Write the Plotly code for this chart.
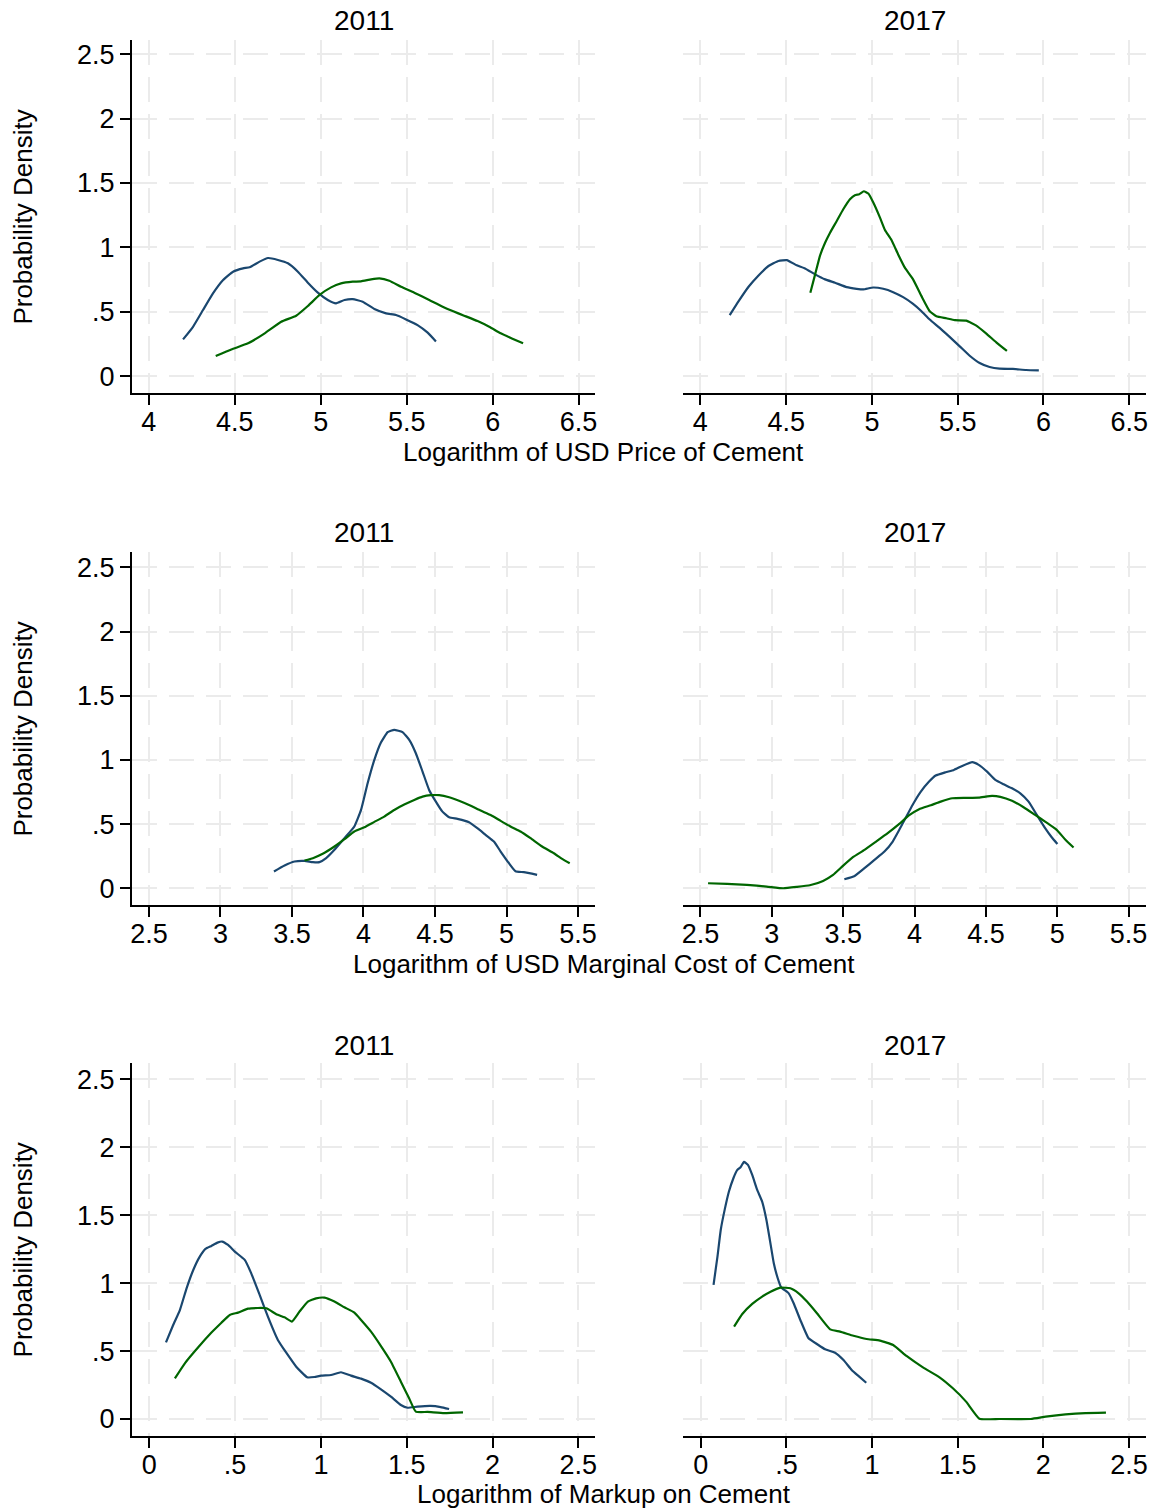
import plotly.graph_objects as go

# Figure geometry (pixels)
W, H = 1156, 1508
FONT = "Liberation Sans, Arial, Helvetica, sans-serif"
COL_G1 = "#1a476f"
COL_G2 = "#006600"
GRID = "#ebebeb"

# ---------------- Density estimates: x = log value, y = density ----------------
# Price of cement, 2011
price_2011_g1_x = [4.199, 4.257, 4.315, 4.373, 4.432, 4.490, 4.548, 4.586, 4.644, 4.693, 4.751, 4.809, 4.867, 4.925,
                   4.983, 5.041, 5.089, 5.138, 5.186, 5.244, 5.312, 5.380, 5.438, 5.496, 5.563, 5.622, 5.670]
price_2011_g1_y = [0.285, 0.383, 0.513, 0.642, 0.746, 0.811, 0.837, 0.845, 0.889, 0.917, 0.902, 0.876, 0.811, 0.725,
                   0.648, 0.591, 0.565, 0.591, 0.598, 0.578, 0.521, 0.487, 0.474, 0.440, 0.396, 0.337, 0.269]
price_2011_g2_x = [4.389, 4.480, 4.577, 4.674, 4.770, 4.857, 4.925, 4.993, 5.060, 5.118, 5.186, 5.234, 5.293, 5.341,
                   5.399, 5.467, 5.544, 5.631, 5.709, 5.767, 5.834, 5.912, 5.980, 6.047, 6.115, 6.177]
price_2011_g2_y = [0.155, 0.207, 0.254, 0.332, 0.422, 0.469, 0.544, 0.630, 0.689, 0.720, 0.733, 0.736, 0.751, 0.759,
                   0.741, 0.694, 0.648, 0.591, 0.539, 0.505, 0.469, 0.427, 0.383, 0.332, 0.290, 0.254]

# Price of cement, 2017
price_2017_g1_x = [4.171, 4.223, 4.281, 4.339, 4.397, 4.455, 4.504, 4.562, 4.610, 4.669, 4.727, 4.785, 4.853, 4.911,
                   4.950, 5.008, 5.066, 5.124, 5.182, 5.240, 5.289, 5.337, 5.395, 5.453, 5.512, 5.570, 5.628, 5.686,
                   5.744, 5.822, 5.899, 5.973]
price_2017_g1_y = [0.473, 0.582, 0.694, 0.782, 0.855, 0.894, 0.901, 0.860, 0.836, 0.790, 0.751, 0.725, 0.691, 0.678,
                   0.673, 0.688, 0.678, 0.652, 0.613, 0.561, 0.504, 0.439, 0.374, 0.304, 0.231, 0.158, 0.101, 0.070,
                   0.057, 0.055, 0.047, 0.044]
price_2017_g2_x = [4.641, 4.669, 4.698, 4.727, 4.756, 4.795, 4.833, 4.872, 4.901, 4.926, 4.953, 4.979, 5.008, 5.047,
                   5.076, 5.114, 5.153, 5.192, 5.240, 5.289, 5.337, 5.376, 5.434, 5.483, 5.550, 5.609, 5.667, 5.725,
                   5.787]
price_2017_g2_y = [0.647, 0.790, 0.938, 1.036, 1.114, 1.205, 1.296, 1.374, 1.405, 1.413, 1.436, 1.418, 1.348, 1.231,
                   1.135, 1.057, 0.945, 0.842, 0.751, 0.621, 0.504, 0.465, 0.449, 0.434, 0.431, 0.392, 0.330, 0.262,
                   0.195]

# Marginal cost of cement, 2011
mc_2011_g1_x = [3.374, 3.448, 3.518, 3.588, 3.646, 3.692, 3.739, 3.797, 3.867, 3.936, 3.983, 4.029, 4.076, 4.122,
                4.169, 4.215, 4.273, 4.320, 4.366, 4.413, 4.459, 4.506, 4.552, 4.599, 4.657, 4.738, 4.796, 4.854,
                4.912, 4.959, 5.017, 5.063, 5.121, 5.214]
mc_2011_g1_y = [0.130, 0.177, 0.208, 0.213, 0.203, 0.203, 0.234, 0.299, 0.390, 0.481, 0.610, 0.818, 1.000, 1.135,
                1.216, 1.234, 1.216, 1.156, 1.052, 0.909, 0.766, 0.675, 0.597, 0.553, 0.540, 0.514, 0.468, 0.416,
                0.364, 0.286, 0.195, 0.132, 0.125, 0.104]
mc_2011_g2_x = [3.588, 3.646, 3.715, 3.797, 3.867, 3.936, 4.006, 4.076, 4.145, 4.215, 4.285, 4.355, 4.413, 4.471,
                4.529, 4.599, 4.668, 4.750, 4.819, 4.889, 4.959, 5.028, 5.098, 5.168, 5.249, 5.331, 5.389, 5.442]
mc_2011_g2_y = [0.216, 0.234, 0.268, 0.325, 0.382, 0.442, 0.475, 0.517, 0.558, 0.610, 0.652, 0.688, 0.714, 0.725,
                0.725, 0.709, 0.681, 0.642, 0.605, 0.571, 0.525, 0.481, 0.442, 0.390, 0.325, 0.273, 0.229, 0.195]

# Marginal cost of cement, 2017
mc_2017_g1_x = [3.508, 3.580, 3.649, 3.719, 3.789, 3.847, 3.893, 3.940, 3.986, 4.044, 4.102, 4.148, 4.218, 4.276,
                4.334, 4.404, 4.450, 4.508, 4.566, 4.624, 4.683, 4.741, 4.799, 4.857, 4.915, 4.961, 5.001]
mc_2017_g1_y = [0.070, 0.096, 0.156, 0.221, 0.286, 0.364, 0.455, 0.553, 0.649, 0.753, 0.831, 0.878, 0.904, 0.922,
                0.953, 0.982, 0.961, 0.909, 0.844, 0.810, 0.779, 0.740, 0.675, 0.571, 0.468, 0.397, 0.345]
mc_2017_g2_x = [2.553, 2.686, 2.825, 2.964, 3.080, 3.173, 3.266, 3.359, 3.429, 3.498, 3.568, 3.649, 3.731, 3.812,
                3.893, 3.963, 4.032, 4.114, 4.183, 4.265, 4.357, 4.450, 4.543, 4.601, 4.683, 4.764, 4.845, 4.915,
                4.996, 5.054, 5.114]
mc_2017_g2_y = [0.039, 0.034, 0.026, 0.013, 0.000, 0.010, 0.023, 0.057, 0.104, 0.174, 0.242, 0.299, 0.364, 0.429,
                0.501, 0.569, 0.616, 0.647, 0.675, 0.701, 0.704, 0.706, 0.719, 0.712, 0.681, 0.631, 0.571, 0.519,
                0.455, 0.382, 0.317]

# Markup on cement, 2011
markup_2011_g1_x = [0.097, 0.139, 0.178, 0.217, 0.256, 0.294, 0.327, 0.362, 0.397, 0.424, 0.459, 0.498, 0.556, 0.594,
                    0.643, 0.691, 0.749, 0.798, 0.856, 0.920, 0.962, 1.001, 1.059, 1.117, 1.175, 1.234, 1.292, 1.350,
                    1.408, 1.466, 1.505, 1.563, 1.640, 1.698, 1.747]
markup_2011_g1_y = [0.564, 0.692, 0.802, 0.962, 1.097, 1.195, 1.252, 1.274, 1.298, 1.306, 1.281, 1.232, 1.171, 1.072,
                    0.913, 0.753, 0.582, 0.488, 0.385, 0.307, 0.309, 0.319, 0.324, 0.344, 0.319, 0.297, 0.267, 0.218,
                    0.164, 0.103, 0.083, 0.091, 0.096, 0.088, 0.074]
markup_2011_g2_x = [0.149, 0.207, 0.285, 0.362, 0.420, 0.469, 0.517, 0.575, 0.633, 0.682, 0.740, 0.788, 0.831, 0.875,
                    0.924, 0.972, 1.021, 1.079, 1.137, 1.195, 1.234, 1.292, 1.350, 1.408, 1.466, 1.514, 1.553, 1.621,
                    1.718, 1.828]
markup_2011_g2_y = [0.299, 0.410, 0.528, 0.636, 0.709, 0.766, 0.783, 0.812, 0.817, 0.815, 0.771, 0.748, 0.717, 0.790,
                    0.864, 0.888, 0.893, 0.864, 0.822, 0.783, 0.729, 0.643, 0.537, 0.422, 0.275, 0.152, 0.054, 0.052,
                    0.044, 0.049]

# Markup on cement, 2017
markup_2017_g1_x = [0.074, 0.097, 0.116, 0.139, 0.164, 0.190, 0.213, 0.232, 0.252, 0.275, 0.300, 0.329, 0.358, 0.383,
                    0.403, 0.426, 0.449, 0.469, 0.513, 0.542, 0.581, 0.629, 0.678, 0.726, 0.784, 0.833, 0.881, 0.920,
                    0.966]
markup_2017_g1_y = [0.987, 1.195, 1.391, 1.539, 1.674, 1.772, 1.833, 1.853, 1.892, 1.870, 1.796, 1.686, 1.600, 1.465,
                    1.318, 1.146, 1.036, 0.969, 0.925, 0.852, 0.729, 0.594, 0.552, 0.513, 0.488, 0.434, 0.361, 0.317,
                    0.267]
markup_2017_g2_x = [0.194, 0.242, 0.300, 0.358, 0.407, 0.465, 0.523, 0.571, 0.620, 0.678, 0.755, 0.813, 0.891, 0.968,
                    1.046, 1.123, 1.201, 1.297, 1.394, 1.472, 1.549, 1.627, 1.743, 1.927, 2.014, 2.130, 2.246, 2.366]
markup_2017_g2_y = [0.680, 0.773, 0.847, 0.901, 0.937, 0.967, 0.962, 0.925, 0.864, 0.778, 0.660, 0.643, 0.613, 0.589,
                    0.577, 0.545, 0.464, 0.380, 0.307, 0.226, 0.128, 0.002, 0.000, 0.000, 0.017, 0.034, 0.044, 0.047]

# ---------------- Tick labels ----------------
density_ticks = [0, 0.5, 1, 1.5, 2, 2.5]
density_ticktext = ["0", ".5", "1", "1.5", "2", "2.5"]
price_ticks = [4, 4.5, 5, 5.5, 6, 6.5]
price_ticktext = ["4", "4.5", "5", "5.5", "6", "6.5"]
mc_ticks = [2.5, 3, 3.5, 4, 4.5, 5, 5.5]
mc_ticktext = ["2.5", "3", "3.5", "4", "4.5", "5", "5.5"]
markup_ticks = [0, 0.5, 1, 1.5, 2, 2.5]
markup_ticktext = ["0", ".5", "1", "1.5", "2", "2.5"]

years = ["2011", "2017"]
x_titles = ["Logarithm of USD Price of Cement",
            "Logarithm of USD Marginal Cost of Cement",
            "Logarithm of Markup on Cement"]
y_title = "Probability Density"

# ---------------- Layout geometry (pixels from top-left) ----------------
col_px = [(131, 596), (684, 1148)]
row_px = [(40, 393.3), (552, 905.3), (1063, 1436)]
x_ranges = [[3.9, 6.598], [2.379, 5.622], [-0.103, 2.6]]
y_ranges = [[-0.134, 2.611], [-0.133, 2.62], [-0.125, 2.62]]
title_y_px = [20, 532, 1045]
xtitle_y_px = [452, 964, 1494]
x_ticks = [(price_ticks, price_ticktext), (mc_ticks, mc_ticktext), (markup_ticks, markup_ticktext)]

panels = [
    [(price_2011_g1_x, price_2011_g1_y, price_2011_g2_x, price_2011_g2_y),
     (price_2017_g1_x, price_2017_g1_y, price_2017_g2_x, price_2017_g2_y)],
    [(mc_2011_g1_x, mc_2011_g1_y, mc_2011_g2_x, mc_2011_g2_y),
     (mc_2017_g1_x, mc_2017_g1_y, mc_2017_g2_x, mc_2017_g2_y)],
    [(markup_2011_g1_x, markup_2011_g1_y, markup_2011_g2_x, markup_2011_g2_y),
     (markup_2017_g1_x, markup_2017_g1_y, markup_2017_g2_x, markup_2017_g2_y)],
]

TICK_FONT = dict(size=27, family=FONT, color="black")


def px_x(p):
    return p / W


def px_y(p):
    return 1 - p / H


fig = go.Figure()
layout = dict(
    width=W, height=H, autosize=False,
    margin=dict(l=0, r=0, t=0, b=0),
    paper_bgcolor="white", plot_bgcolor="white",
    showlegend=False,
    font=dict(family=FONT, color="black", size=26),
)
annotations = []

idx = 0
for r in range(3):
    for c in range(2):
        idx += 1
        xa = "xaxis" if idx == 1 else f"xaxis{idx}"
        ya = "yaxis" if idx == 1 else f"yaxis{idx}"
        xref = "x" if idx == 1 else f"x{idx}"
        yref = "y" if idx == 1 else f"y{idx}"
        gx, gy, hx, hy = panels[r][c]
        for xs, ys, col in ((gx, gy, COL_G1), (hx, hy, COL_G2)):
            fig.add_trace(go.Scatter(x=xs, y=ys, mode="lines", xaxis=xref, yaxis=yref,
                                     line=dict(color=col, width=2.2, shape="spline", smoothing=0.4),
                                     hoverinfo="skip"))
        tv, tt = x_ticks[r]
        layout[xa] = dict(
            domain=[px_x(col_px[c][0]), px_x(col_px[c][1])], anchor=yref,
            range=x_ranges[r], tickmode="array", tickvals=tv, ticktext=tt,
            showline=True, linecolor="black", linewidth=1.5, mirror=False,
            ticks="outside", ticklen=10, tickwidth=1.5, tickcolor="black",
            tickfont=TICK_FONT, ticklabelstandoff=-6,
            showgrid=True, gridcolor=GRID, gridwidth=2, griddash="25px,12px",
            zeroline=False, fixedrange=True,
        )
        left = c == 0
        layout[ya] = dict(
            domain=[px_y(row_px[r][1]), px_y(row_px[r][0])], anchor=xref,
            range=y_ranges[r], tickmode="array", tickvals=density_ticks, ticktext=density_ticktext,
            showline=left, linecolor="black", linewidth=1.5,
            ticks="outside" if left else "", ticklen=10, tickwidth=1.5, tickcolor="black",
            showticklabels=left, tickfont=TICK_FONT,
            showgrid=True, gridcolor=GRID, gridwidth=2, griddash="25px,12px",
            zeroline=False, fixedrange=True,
        )
        # Year title above each panel
        annotations.append(dict(
            text=years[c], x=px_x((col_px[c][0] + col_px[c][1]) / 2), y=px_y(title_y_px[r]),
            xref="paper", yref="paper", xanchor="center", yanchor="middle",
            showarrow=False, font=dict(size=28, family=FONT, color="black"),
        ))
    # Shared x title under each row
    annotations.append(dict(
        text=x_titles[r], x=px_x(604.5), y=px_y(xtitle_y_px[r]),
        xref="paper", yref="paper", xanchor="center", yanchor="middle",
        showarrow=False, font=dict(size=26, family=FONT, color="black"),
    ))
    # Y title at the left of each row
    annotations.append(dict(
        text=y_title, x=px_x(22), y=px_y((row_px[r][0] + row_px[r][1]) / 2),
        xref="paper", yref="paper", xanchor="center", yanchor="middle", textangle=-90,
        showarrow=False, font=dict(size=26, family=FONT, color="black"),
    ))

layout["annotations"] = annotations
fig.update_layout(**layout)
fig.write_html("out.html")
